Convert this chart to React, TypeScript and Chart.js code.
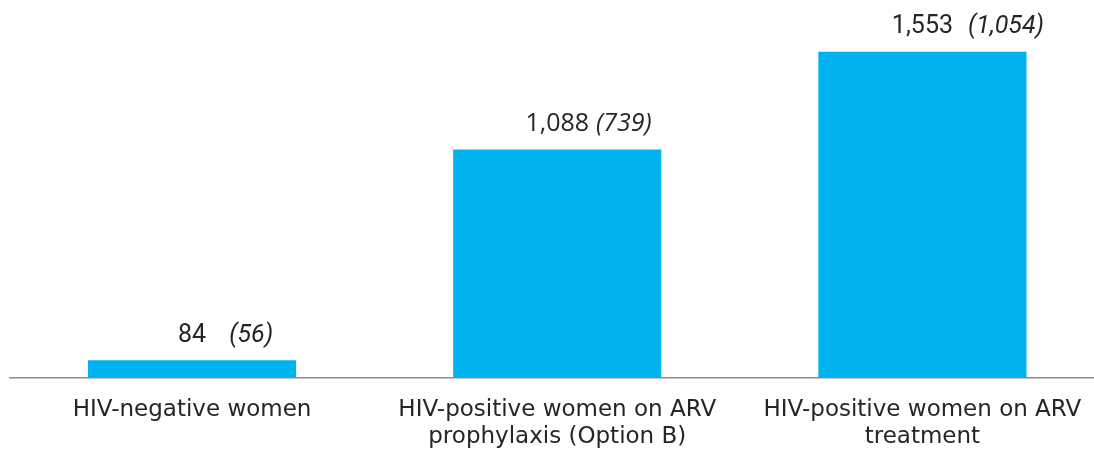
import React, { useEffect, useRef } from "react";
import { Chart, registerables } from "chart.js";

Chart.register(...registerables);

const categories: (string | string[])[] = [
  "HIV-negative women",
  ["HIV-positive women on ARV", "prophylaxis (Option B)"],
  ["HIV-positive women on ARV", "treatment"],
];
const totals = [84, 1088, 1553];
const subTotals = [56, 739, 1054];
const totalLabels = ["84", "1,088", "1,553"];
const subLabels = ["(56)", "(739)", "(1,054)"];
const labelGaps = [23, 7, 15];
const labelFonts = ["Roboto", "Open Sans", "Roboto"];

const BAR_COLOR = "#00B2EE";
const TEXT_COLOR = "#262626";

// Draws "total (sub-total)" above each bar: the total is centred on the bar,
// the italic figure in brackets follows it on the right.
const valueLabels = {
  id: "valueLabels",
  afterDatasetsDraw(chart: Chart) {
    const { ctx } = chart;
    const meta = chart.getDatasetMeta(0);
    ctx.save();
    ctx.fillStyle = TEXT_COLOR;
    ctx.textBaseline = "alphabetic";
    meta.data.forEach((bar: any, i: number) => {
      const family = labelFonts[i];
      const y = bar.y - 18.5;
      ctx.font = `25px "${family}"`;
      ctx.textAlign = "center";
      ctx.fillText(totalLabels[i], bar.x, y);
      const w = ctx.measureText(totalLabels[i]).width;
      ctx.font = `italic 25px "${family}"`;
      ctx.textAlign = "left";
      ctx.fillText(subLabels[i], bar.x + w / 2 + labelGaps[i], y);
    });
    ctx.restore();
  },
};

export default function App() {
  const canvasRef = useRef<HTMLCanvasElement | null>(null);

  useEffect(() => {
    if (!canvasRef.current) return;
    const chart = new Chart(canvasRef.current, {
      type: "bar",
      data: {
        labels: categories,
        datasets: [
          {
            data: totals,
            backgroundColor: BAR_COLOR,
            borderWidth: 0,
            barPercentage: 0.57,
            categoryPercentage: 1,
          },
        ],
      },
      options: {
        animation: false,
        responsive: true,
        maintainAspectRatio: false,
        layout: { padding: { left: 9.5, right: 0, top: 0, bottom: 0 } },
        plugins: {
          legend: { display: false },
          tooltip: { enabled: false },
        },
        scales: {
          x: {
            grid: { display: false, drawTicks: false },
            border: { display: true, color: "#8c8c8c", width: 1.5 },
            ticks: {
              color: TEXT_COLOR,
              padding: 18,
              font: { family: "DejaVu Sans", size: 23, lineHeight: 1.2 },
              maxRotation: 0,
              autoSkip: false,
            },
            afterFit(scale: any) {
              scale.height = 72;
            },
          },
          y: {
            display: false,
            min: 0,
            max: 1800,
          },
        },
      },
      plugins: [valueLabels],
    });
    return () => chart.destroy();
  }, []);

  return (
    <div
      style={{
        position: "fixed",
        left: 0,
        top: 0,
        width: 1094,
        height: 450,
        overflow: "hidden",
        background: "#ffffff",
      }}
    >
      <div style={{ position: "relative", width: 1105, height: 450 }}>
        <canvas ref={canvasRef} />
      </div>
    </div>
  );
}
